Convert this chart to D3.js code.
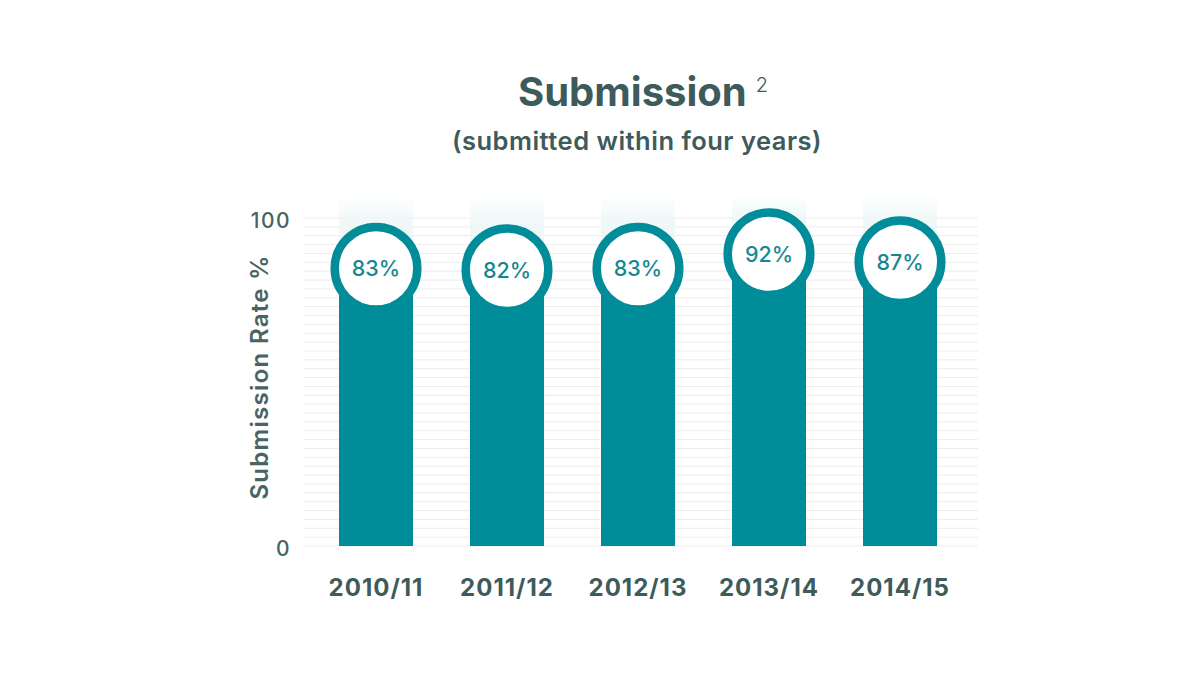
<!DOCTYPE html>
<html>
<head>
<meta charset="utf-8">
<script src="https://cdn.jsdelivr.net/npm/d3@7"></script>
<style>
  body { margin: 0; background: #fff; }
  svg { display: block; font-family: Inter, Lato, sans-serif; }
</style>
</head>
<body>
<div id="chart"></div>
<script>
// data
const years = ["2010/11", "2011/12", "2012/13", "2013/14", "2014/15"];
const rates = [83, 82, 83, 92, 87];
const yTicks = [0, 100];

const TEAL = "#008c99";
const TEXT = "#3e5b5b";

var width = 1200,
    height = 675;

var svg = d3.select("#chart").append("svg")
  .attr("width", width)
  .attr("height", height);

const x = d3.scaleBand()
  .domain(years)
  .range([339, 937])
  .paddingInner(0.435)
  .paddingOuter(0);

const y = d3.scaleLinear()
  .domain([0, 100])
  .range([546, 218]);

// where the value badges sit (the badges are squeezed toward the top in the original)
const yBadge = d3.scaleLinear()
  .domain([0, 100])
  .range([401, 241]);

const data = years.map((d, i) => ({year: d, rate: rates[i]}));

// gradient for the light column above each bar
const defs = svg.append("defs");
const grad = defs.append("linearGradient")
  .attr("id", "colFade")
  .attr("x1", 0).attr("y1", 0).attr("x2", 0).attr("y2", 1);
grad.append("stop").attr("offset", "0%").attr("stop-color", "#ffffff");
grad.append("stop").attr("offset", "35%").attr("stop-color", "#eef7f7");
grad.append("stop").attr("offset", "100%").attr("stop-color", "#eaf5f5");

// grid lines (decorative, thin)
const gridCount = 37;
svg.append("g")
  .selectAll("line")
  .data(d3.range(gridCount + 1))
  .join("line")
    .attr("x1", 303)
    .attr("x2", 978)
    .attr("y1", d => y(d * 100 / gridCount))
    .attr("y2", d => y(d * 100 / gridCount))
    .attr("stroke", "#ececec")
    .attr("stroke-width", 1);

// light columns
svg.append("g")
  .selectAll("rect")
  .data(data)
  .join("rect")
    .attr("x", d => x(d.year))
    .attr("width", x.bandwidth())
    .attr("y", 195)
    .attr("height", d => yBadge(d.rate) - 195)
    .attr("fill", "url(#colFade)")
    .attr("fill-opacity", 0.9);

// bars
svg.append("g")
  .selectAll("rect")
  .data(data)
  .join("rect")
    .attr("x", d => x(d.year))
    .attr("width", x.bandwidth())
    .attr("y", d => yBadge(d.rate))
    .attr("height", d => y(0) - yBadge(d.rate))
    .attr("fill", TEAL);

// badges
const badge = svg.append("g")
  .selectAll("g")
  .data(data)
  .join("g")
    .attr("transform", d => `translate(${x(d.year) + x.bandwidth() / 2},${yBadge(d.rate)})`);

badge.append("circle")
  .attr("r", 41.3)
  .attr("fill", "#fff")
  .attr("stroke", TEAL)
  .attr("stroke-width", 8.5);

badge.append("text")
  .attr("text-anchor", "middle")
  .attr("dy", "0.36em")
  .attr("fill", "#17878f")
  .attr("font-size", 21.5)
  .attr("font-weight", 500)
  .text(d => d.rate + "%");

// y ticks
svg.append("g")
  .selectAll("text")
  .data(yTicks)
  .join("text")
    .attr("x", 291)
    .attr("y", d => y(d) + 3)
    .attr("dy", "0.35em")
    .attr("text-anchor", "end")
    .attr("fill", "#4a6363")
    .attr("font-size", 21)
    .attr("font-weight", 500)
    .attr("letter-spacing", 1.5)
    .text(d => d);

// y title
svg.append("text")
  .attr("transform", "translate(268,377) rotate(-90)")
  .attr("text-anchor", "middle")
  .attr("fill", "#4a6363")
  .attr("font-size", 24)
  .attr("font-weight", 600)
  .attr("letter-spacing", 1.3)
  .text("Submission Rate %");

// x labels
svg.append("g")
  .selectAll("text")
  .data(years)
  .join("text")
    .attr("x", d => x(d) + x.bandwidth() / 2)
    .attr("y", 596)
    .attr("text-anchor", "middle")
    .attr("fill", TEXT)
    .attr("font-size", 24)
    .attr("font-weight", 700)
    .attr("letter-spacing", 1)
    .text(d => d);

// title
const title = svg.append("text")
  .attr("x", 518)
  .attr("y", 106)
  .attr("fill", TEXT);
title.append("tspan")
  .attr("font-size", 40)
  .attr("font-weight", 700)
  .text("Submission");
title.append("tspan")
  .attr("dx", 9)
  .attr("dy", -14)
  .attr("font-size", 20)
  .attr("font-weight", 300)
  .text("2");

svg.append("text")
  .attr("x", 637)
  .attr("y", 150)
  .attr("text-anchor", "middle")
  .attr("fill", TEXT)
  .attr("font-size", 25.5)
  .attr("font-weight", 600)
  .attr("letter-spacing", 0.5)
  .text("(submitted within four years)");
</script>
</body>
</html>
